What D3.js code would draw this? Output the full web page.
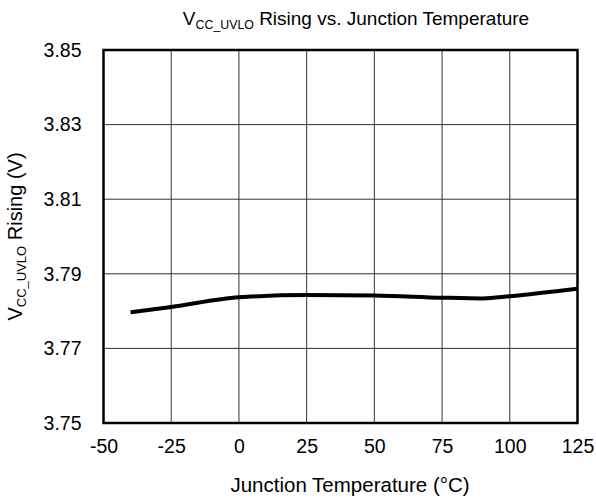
<!DOCTYPE html>
<html><head><meta charset="utf-8">
<script src="https://cdn.jsdelivr.net/npm/d3@7"></script>
<style>body{margin:0;background:#fff}svg{display:block}text{font-family:"Liberation Sans",Arial,sans-serif;fill:#000}</style>
</head><body>
<svg id="c" width="596" height="502"></svg>
<script>
const temps = [-40, -25, 0, 25, 50, 75, 90, 100, 125];
const vRising = [3.7797, 3.7811, 3.7837, 3.7843, 3.7842, 3.7836, 3.7834, 3.7840, 3.7860];
const xTicks = [-50, -25, 0, 25, 50, 75, 100, 125];
const yTicks = [3.75, 3.77, 3.79, 3.81, 3.83, 3.85];

const svg = d3.select("#c");
const L = 103.5, R = 577.5, T = 50, B = 423;
const x = d3.scaleLinear().domain([-50, 125]).range([L, R]);
const y = d3.scaleLinear().domain([3.75, 3.85]).range([B, T]);
const fs = 19.5;

// grid
svg.append("g").selectAll("line").data(xTicks.slice(1, -1)).join("line")
  .attr("x1", d => x(d)).attr("x2", d => x(d)).attr("y1", T).attr("y2", B)
  .attr("stroke", "#333").attr("stroke-width", 1);
svg.append("g").selectAll("line").data(yTicks.slice(1, -1)).join("line")
  .attr("y1", d => y(d)).attr("y2", d => y(d)).attr("x1", L).attr("x2", R)
  .attr("stroke", "#333").attr("stroke-width", 1);

// axes via d3
const xAxis = svg.append("g").attr("transform", `translate(0,${B})`)
  .call(d3.axisBottom(x).tickValues(xTicks).tickSize(0).tickPadding(16).tickFormat(d => String(d)));
const yAxis = svg.append("g").attr("transform", `translate(${L},0)`)
  .call(d3.axisLeft(y).tickValues(yTicks).tickSize(0).tickPadding(22).tickFormat(d3.format(".2f")));
[xAxis, yAxis].forEach(g => {
  g.select(".domain").remove();
  g.selectAll("text").attr("font-size", fs).attr("font-family", "Liberation Sans, Arial, sans-serif").attr("fill", "#000");
});

// border
svg.append("rect").attr("x", L).attr("y", T).attr("width", R - L).attr("height", B - T)
  .attr("fill", "none").attr("stroke", "#000").attr("stroke-width", 2.5);

// curve
svg.append("path").datum(temps.map((t, i) => [t, vRising[i]]))
  .attr("d", d3.line().x(d => x(d[0])).y(d => y(d[1])).curve(d3.curveMonotoneX))
  .attr("fill", "none").attr("stroke", "#000").attr("stroke-width", 4);

// title
const title = svg.append("text").attr("x", 356).attr("y", 25).attr("text-anchor", "middle").attr("font-size", 19);
title.append("tspan").text("V");
title.append("tspan").attr("font-size", 19 * 0.65).attr("dy", 4).text("CC_UVLO");
title.append("tspan").attr("dy", -4).text(" Rising vs. Junction Temperature");

// x label
svg.append("text").attr("x", 350).attr("y", 492).attr("text-anchor", "middle").attr("font-size", 20.5)
  .text("Junction Temperature (°C)");

// y label
const yl = svg.append("text").attr("transform", `translate(22,${(T + B) / 2}) rotate(-90)`)
  .attr("text-anchor", "middle").attr("font-size", 20);
yl.append("tspan").text("V");
yl.append("tspan").attr("font-size", 20 * 0.65).attr("dy", 4).text("CC_UVLO");
yl.append("tspan").attr("dy", -4).text(" Rising (V)");
</script>
</body></html>
